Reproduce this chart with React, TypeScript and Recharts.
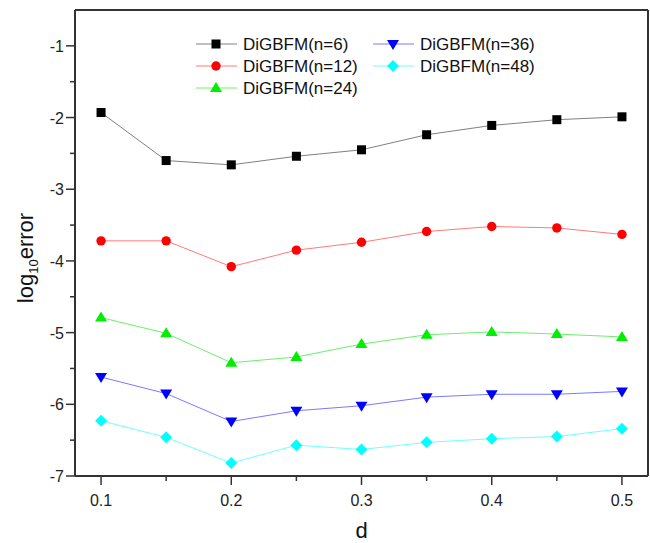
import { LineChart, Line, XAxis, YAxis, ReferenceLine, Legend } from 'recharts';

const dValues = [0.1, 0.15, 0.2, 0.25, 0.3, 0.35, 0.4, 0.45, 0.5];
const n6 = [-1.93, -2.6, -2.66, -2.54, -2.45, -2.24, -2.11, -2.03, -1.99];
const n12 = [-3.72, -3.72, -4.08, -3.85, -3.74, -3.59, -3.52, -3.54, -3.63];
const n24 = [-4.79, -5.01, -5.42, -5.34, -5.16, -5.03, -4.99, -5.02, -5.06];
const n36 = [-5.62, -5.85, -6.24, -6.09, -6.02, -5.9, -5.86, -5.86, -5.82];
const n48 = [-6.23, -6.46, -6.82, -6.57, -6.63, -6.53, -6.48, -6.45, -6.34];

const xTicks = [0.1, 0.15, 0.2, 0.25, 0.3, 0.35, 0.4, 0.45, 0.5];
const yTicks = [-7, -6.5, -6, -5.5, -5, -4.5, -4, -3.5, -3, -2.5, -2, -1.5, -1];

const series = [
  { key: 'n6', name: 'DiGBFM(n=6)', values: n6, fill: '#000000', line: '#808080', shape: 'square' },
  { key: 'n12', name: 'DiGBFM(n=12)', values: n12, fill: '#ff0000', line: '#ff7a7a', shape: 'circle' },
  { key: 'n24', name: 'DiGBFM(n=24)', values: n24, fill: '#00ee00', line: '#6cf06c', shape: 'up' },
  { key: 'n36', name: 'DiGBFM(n=36)', values: n36, fill: '#0000ff', line: '#7a7aff', shape: 'down' },
  { key: 'n48', name: 'DiGBFM(n=48)', values: n48, fill: '#00ffff', line: '#70ffff', shape: 'diamond' },
];

const data = dValues.map((d, i) => {
  const row: Record<string, number> = { d };
  series.forEach((s) => { row[s.key] = s.values[i]; });
  return row;
});

const FONT = '"Liberation Sans", Arial, sans-serif';
const AXIS = '#333';

function Marker({ shape, cx, cy, fill }: { shape: string; cx: number; cy: number; fill: string }) {
  if (shape === 'square') return <rect x={cx - 4.5} y={cy - 4.5} width={9} height={9} fill={fill} />;
  if (shape === 'circle') return <circle cx={cx} cy={cy} r={4.7} fill={fill} />;
  let pts = '';
  if (shape === 'up') pts = `${cx},${cy - 6} ${cx + 6},${cy + 4} ${cx - 6},${cy + 4}`;
  else if (shape === 'down') pts = `${cx - 6},${cy - 4} ${cx + 6},${cy - 4} ${cx},${cy + 6}`;
  else pts = `${cx},${cy - 6} ${cx + 6},${cy} ${cx},${cy + 6} ${cx - 6},${cy}`;
  return <polygon points={pts} fill={fill} />;
}

const XTick = (props: any) => {
  const { x, y, payload } = props;
  const v = payload.value;
  const major = Math.round(v * 100) % 10 === 0;
  return (
    <g>
      <line x1={x} x2={x} y1={y} y2={y + (major ? 9 : 5)} stroke={AXIS} strokeWidth={1.5} />
      {major && (
        <text x={x} y={y + 30} textAnchor="middle" fontSize={16} fontFamily={FONT} fill="#222">
          {v.toFixed(1)}
        </text>
      )}
    </g>
  );
};

const YTick = (props: any) => {
  const { x, y, payload } = props;
  const v = payload.value;
  const major = Number.isInteger(v);
  return (
    <g>
      <line x1={x} x2={x - (major ? 9 : 5)} y1={y} y2={y} stroke={AXIS} strokeWidth={1.5} />
      {major && (
        <text x={x - 11} y={y + 6} textAnchor="end" fontSize={16} fontFamily={FONT} fill="#222">
          {v}
        </text>
      )}
    </g>
  );
};

const legendPos = [
  { x: 16, y: 14 },
  { x: 16, y: 36 },
  { x: 16, y: 58 },
  { x: 193, y: 14 },
  { x: 193, y: 36 },
];

const LegendBox = () => (
  <svg width={420} height={72} style={{ overflow: 'visible' }}>
    {series.map((s, i) => {
      const p = legendPos[i];
      return (
        <g key={s.key}>
          <line x1={p.x} x2={p.x + 41} y1={p.y} y2={p.y} stroke={s.line} strokeWidth={1} />
          <Marker shape={s.shape} cx={p.x + 20} cy={p.y} fill={s.fill} />
          <text x={p.x + 47} y={p.y + 6} fontSize={17} fontFamily={FONT} fill="#111">{s.name}</text>
        </g>
      );
    })}
  </svg>
);

export default function App() {
  return (
    <div style={{ position: 'absolute', left: 0, top: 0, background: '#fff' }}>
      <LineChart width={650} height={543} data={data} margin={{ top: 10, right: 2, left: 0, bottom: 0 }}>
        <XAxis
          dataKey="d"
          type="number"
          domain={[0.08, 0.52]}
          allowDataOverflow
          ticks={xTicks}
          interval={0}
          height={67}
          tickSize={0}
          tickMargin={0}
          tickLine={false}
          tick={<XTick />}
          axisLine={{ stroke: AXIS, strokeWidth: 2 }}
          label={{
            content: (p: any) => {
              const vb = p.viewBox;
              return (
                <text x={vb.x + vb.width / 2} y={vb.y + vb.height - 5} textAnchor="middle" fontSize={22} fontFamily={FONT} fill="#111">
                  d
                </text>
              );
            },
          }}
        />
        <YAxis
          type="number"
          domain={[-7, -0.5]}
          allowDataOverflow
          ticks={yTicks}
          interval={0}
          width={75}
          tickSize={0}
          tickMargin={0}
          tickLine={false}
          tick={<YTick />}
          axisLine={{ stroke: AXIS, strokeWidth: 2 }}
          label={{
            content: () => (
              <text x={33} y={258} transform="rotate(-90, 33, 258)" textAnchor="middle" fontSize={22} fontFamily={FONT} fill="#111">
                <tspan>log</tspan>
                <tspan fontSize={13} dy={5}>10</tspan>
                <tspan dy={-5}>error</tspan>
              </text>
            ),
          }}
        />
        <ReferenceLine y={-0.5} stroke={AXIS} strokeWidth={2} />
        <ReferenceLine x={0.52} stroke={AXIS} strokeWidth={2} />
        <Legend
          layout="vertical"
          verticalAlign="middle"
          align="center"
          wrapperStyle={{ left: 180, top: 30, width: 420, height: 72 }}
          content={<LegendBox />}
        />
        {series.map((s) => (
          <Line
            key={s.key}
            dataKey={s.key}
            name={s.name}
            type="linear"
            stroke={s.line}
            strokeWidth={1}
            isAnimationActive={false}
            dot={(p: any) => (
              <g key={`${s.key}-${p.index}`}>
                <Marker shape={s.shape} cx={p.cx} cy={p.cy} fill={s.fill} />
              </g>
            )}
          />
        ))}
      </LineChart>
    </div>
  );
}
